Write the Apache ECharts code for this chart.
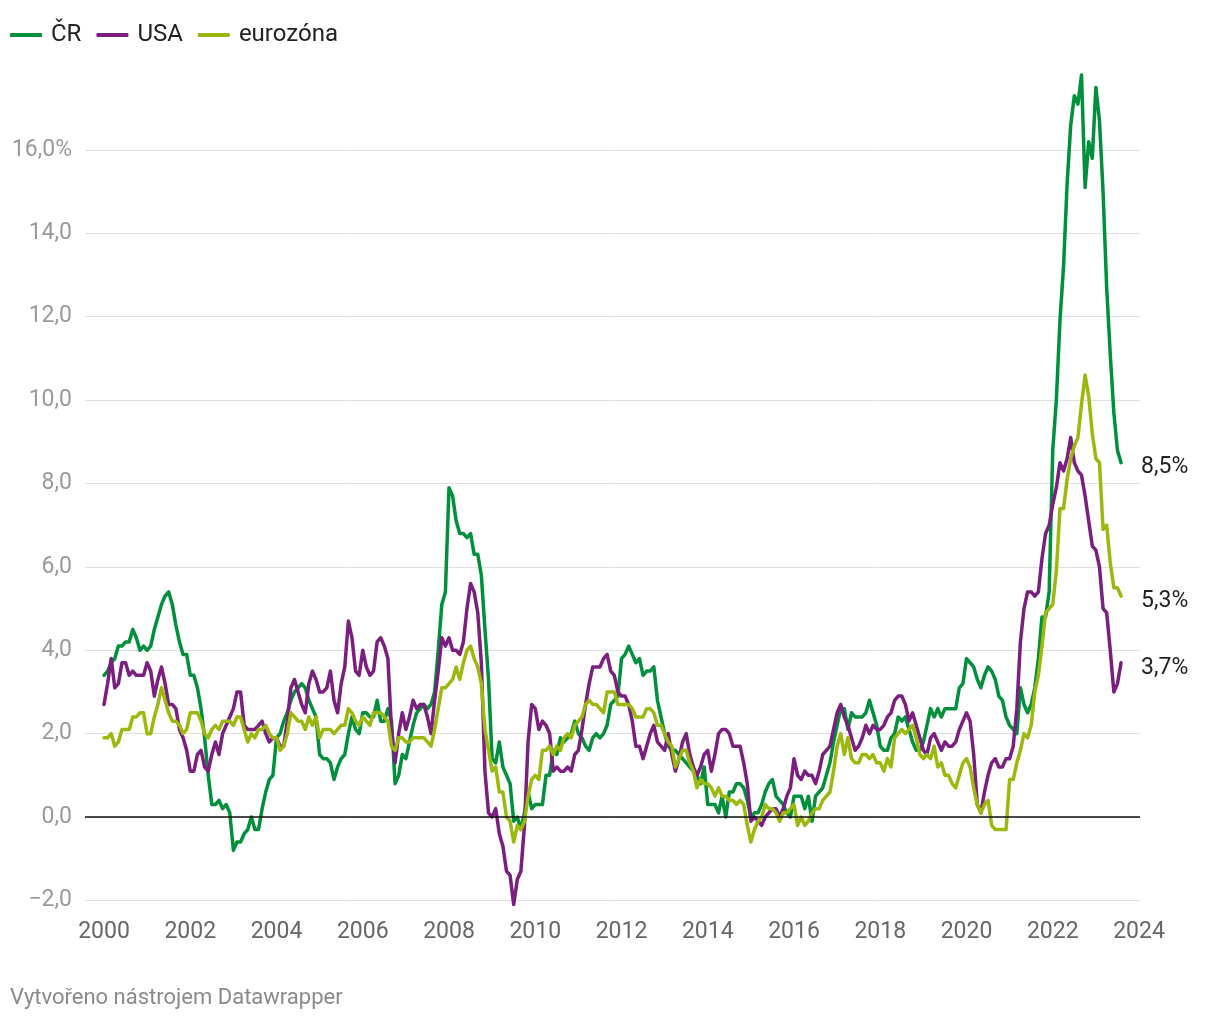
<!DOCTYPE html>
<html>
<head>
<meta charset="utf-8">
<script src="https://cdn.jsdelivr.net/npm/echarts@6/dist/echarts.min.js"></script>
<style>
html,body{margin:0;padding:0;background:#fff;}
#chart{width:1220px;height:1020px;}
</style>
</head>
<body>
<div id="chart"></div>
<script>
// Monthly year-on-year inflation, Jan 2000 – Aug 2023
const startYear = 2000;
const seriesNames = ['ČR', 'USA', 'eurozóna'];

const cz = [
3.4,3.5,3.7,3.8,4.1,4.1,4.2,4.2,4.5,4.3,4.0,4.1,
4.0,4.1,4.5,4.8,5.1,5.3,5.4,5.1,4.6,4.2,3.9,3.9,
3.4,3.4,3.1,2.6,1.9,1.0,0.3,0.3,0.4,0.2,0.3,0.1,
-0.8,-0.6,-0.6,-0.4,-0.3,0.0,-0.3,-0.3,0.2,0.6,0.9,1.0,
1.9,2.0,2.3,2.5,2.8,3.0,3.1,3.2,3.1,2.8,2.6,2.4,
1.5,1.4,1.4,1.3,0.9,1.2,1.4,1.5,2.0,2.4,2.1,2.0,
2.5,2.5,2.4,2.4,2.8,2.3,2.3,2.6,2.3,0.8,1.0,1.5,
1.4,1.8,2.2,2.5,2.6,2.7,2.6,2.7,3.0,4.0,5.1,5.4,
7.9,7.7,7.1,6.8,6.8,6.7,6.8,6.3,6.3,5.8,4.5,3.3,
1.4,1.3,1.8,1.2,1.0,0.8,-0.1,0.0,-0.3,0.1,0.6,0.2,
0.3,0.3,0.3,1.0,1.0,1.6,1.5,1.9,1.8,1.9,2.0,2.3,
2.0,1.9,1.7,1.6,1.9,2.0,1.9,2.0,2.2,2.7,2.8,2.9,
3.8,3.9,4.1,3.9,3.7,3.8,3.4,3.5,3.5,3.6,2.8,2.4,
2.0,1.7,1.6,1.6,1.5,1.4,1.3,1.2,1.1,1.0,0.8,1.2,
0.3,0.3,0.3,0.1,0.5,0.0,0.6,0.6,0.8,0.8,0.7,0.4,
0.0,0.1,0.1,0.3,0.6,0.8,0.9,0.5,0.4,0.3,0.1,0.0,
0.5,0.5,0.5,0.2,0.5,-0.1,0.5,0.6,0.7,1.0,1.3,1.8,
2.2,2.6,2.6,2.1,2.5,2.4,2.4,2.4,2.5,2.8,2.5,2.2,
1.7,1.6,1.6,1.9,2.0,2.4,2.3,2.4,2.1,1.8,1.6,1.6,
1.8,2.2,2.6,2.4,2.6,2.4,2.6,2.6,2.6,2.6,3.1,3.2,
3.8,3.7,3.6,3.3,3.1,3.4,3.6,3.5,3.3,2.9,2.8,2.4,
2.2,2.1,2.0,3.1,2.7,2.5,2.7,3.1,3.8,4.8,4.8,5.4,
8.8,10.0,11.9,13.2,15.2,16.6,17.3,17.1,17.8,15.1,16.2,15.8,
17.5,16.7,15.0,12.7,11.1,9.7,8.8,8.5
];

const usa = [
2.7,3.2,3.8,3.1,3.2,3.7,3.7,3.4,3.5,3.4,3.4,3.4,
3.7,3.5,2.9,3.3,3.6,3.2,2.7,2.7,2.6,2.1,1.9,1.6,
1.1,1.1,1.5,1.6,1.2,1.1,1.5,1.8,1.5,2.0,2.2,2.4,
2.6,3.0,3.0,2.2,2.1,2.1,2.1,2.2,2.3,2.0,1.8,1.9,
1.9,1.7,1.7,2.3,3.1,3.3,3.0,2.7,2.5,3.2,3.5,3.3,
3.0,3.0,3.1,3.5,2.8,2.5,3.2,3.6,4.7,4.3,3.5,3.4,
4.0,3.6,3.4,3.5,4.2,4.3,4.1,3.8,2.1,1.3,2.0,2.5,
2.1,2.4,2.8,2.6,2.7,2.7,2.4,2.0,2.8,3.5,4.3,4.1,
4.3,4.0,4.0,3.9,4.2,5.0,5.6,5.4,4.9,3.7,1.1,0.1,
0.0,0.2,-0.4,-0.7,-1.3,-1.4,-2.1,-1.5,-1.3,-0.2,1.8,2.7,
2.6,2.1,2.3,2.2,2.0,1.1,1.2,1.1,1.1,1.2,1.1,1.5,
1.6,2.1,2.7,3.2,3.6,3.6,3.6,3.8,3.9,3.5,3.4,3.0,
2.9,2.9,2.7,2.3,1.7,1.7,1.4,1.7,2.0,2.2,1.8,1.7,
1.6,2.0,1.5,1.1,1.4,1.8,2.0,1.5,1.2,1.0,1.2,1.5,
1.6,1.1,1.5,2.0,2.1,2.1,2.0,1.7,1.7,1.7,1.3,0.8,
-0.1,0.0,-0.1,-0.2,0.0,0.1,0.2,0.2,0.0,0.2,0.5,0.7,
1.4,1.0,0.9,1.1,1.0,1.0,0.8,1.1,1.5,1.6,1.7,2.1,
2.5,2.7,2.4,2.2,1.9,1.6,1.7,1.9,2.2,2.0,2.2,2.1,
2.1,2.2,2.4,2.5,2.8,2.9,2.9,2.7,2.3,2.5,2.2,1.9,
1.6,1.5,1.9,2.0,1.8,1.6,1.8,1.7,1.7,1.8,2.1,2.3,
2.5,2.3,1.5,0.3,0.1,0.6,1.0,1.3,1.4,1.2,1.2,1.4,
1.4,1.7,2.6,4.2,5.0,5.4,5.4,5.3,5.4,6.2,6.8,7.0,
7.5,7.9,8.5,8.3,8.6,9.1,8.5,8.3,8.2,7.7,7.1,6.5,
6.4,6.0,5.0,4.9,4.0,3.0,3.2,3.7
];

const ez = [
1.9,1.9,2.0,1.7,1.8,2.1,2.1,2.1,2.4,2.4,2.5,2.5,
2.0,2.0,2.4,2.7,3.1,2.8,2.5,2.3,2.3,2.2,2.0,2.1,
2.5,2.5,2.5,2.3,2.0,1.9,2.1,2.2,2.1,2.3,2.3,2.3,
2.2,2.4,2.4,2.1,1.8,2.0,1.9,2.1,2.1,2.2,2.0,1.9,
1.9,1.6,1.7,2.0,2.5,2.4,2.3,2.3,2.1,2.4,2.2,2.4,
1.9,2.1,2.1,2.1,2.0,2.1,2.2,2.2,2.6,2.5,2.3,2.2,
2.4,2.3,2.2,2.5,2.5,2.5,2.4,2.3,1.7,1.6,1.9,1.9,
1.8,1.8,1.9,1.9,1.9,1.9,1.8,1.7,2.1,2.6,3.1,3.1,
3.2,3.3,3.6,3.3,3.7,4.0,4.1,3.8,3.6,3.2,2.1,1.6,
1.1,1.2,0.6,0.6,0.0,-0.1,-0.6,-0.2,-0.3,-0.1,0.5,0.9,
1.0,0.9,1.6,1.6,1.7,1.5,1.7,1.6,1.9,2.0,1.9,2.2,
2.3,2.4,2.7,2.8,2.7,2.7,2.6,2.5,3.0,3.0,3.0,2.7,
2.7,2.7,2.7,2.6,2.4,2.4,2.4,2.6,2.6,2.5,2.2,2.2,
2.0,1.8,1.7,1.2,1.4,1.6,1.6,1.3,1.1,0.7,0.9,0.8,
0.8,0.7,0.5,0.7,0.5,0.5,0.4,0.4,0.3,0.4,0.3,-0.2,
-0.6,-0.3,-0.1,0.0,0.3,0.2,0.2,0.1,-0.1,0.1,0.1,0.2,
0.3,-0.2,0.0,-0.2,-0.1,0.1,0.2,0.2,0.4,0.5,0.6,1.1,
1.7,2.0,1.5,1.9,1.4,1.3,1.3,1.5,1.5,1.4,1.5,1.3,
1.3,1.1,1.4,1.2,1.9,2.0,2.1,2.0,2.1,2.2,1.9,1.5,
1.4,1.5,1.4,1.7,1.2,1.3,1.0,1.0,0.8,0.7,1.0,1.3,
1.4,1.2,0.7,0.3,0.1,0.3,0.4,-0.2,-0.3,-0.3,-0.3,-0.3,
0.9,0.9,1.3,1.6,2.0,1.9,2.2,3.0,3.4,4.1,4.9,5.0,
5.1,5.9,7.4,7.4,8.1,8.6,8.9,9.1,9.9,10.6,10.1,9.2,
8.6,8.5,6.9,7.0,6.1,5.5,5.5,5.3
];

const xTickLabels = [2000,2002,2004,2006,2008,2010,2012,2014,2016,2018,2020,2022,2024];
const yTickValues = [-2,0,2,4,6,8,10,12,14,16];

const colors = ['#00903b', '#7a1e80', '#9cb80c'];

function toPoints(arr){
  return arr.map((v,i)=>[startYear + i/12, v]);
}
function fmt(v){
  const s = Math.abs(v).toFixed(1).replace('.', ',');
  return (v < 0 ? '\u2212' : '') + s;
}

const chart = echarts.init(document.getElementById('chart'), null, {renderer:'canvas'});

const gridLeft = 85, gridRight = 80, gridTop = 66.6, gridBottom = 119.6;
const pxPerYear = 43.125;
const xMin = 2000 - 19/pxPerYear;
const xMax = xMin + (1220 - gridLeft - gridRight)/pxPerYear;

const mk = (name, data, color, extra) => Object.assign({
  name: name,
  type: 'line',
  data: toPoints(data),
  symbol: 'none',
  showSymbol: false,
  clip: false,
  lineStyle: {color: color, width: 3.5, join: 'round', cap: 'round'},
  itemStyle: {color: color},
  emphasis: {disabled: true},
  endLabel: {
    show: true,
    distance: 20,
    offset: [0, 5],
    formatter: p => fmt(p.value[1]) + '%',
    color: '#222',
    fontSize: 23,
    fontFamily: 'Roboto'
  },
  animation: false
}, extra || {});

const option = {
  animation: false,
  textStyle: {fontFamily: 'Roboto'},
  legend: {
    left: 5,
    top: 18,
    itemWidth: 32,
    itemHeight: 4,
    itemGap: 15,
    icon: 'roundRect',
    selectedMode: false,
    textStyle: {fontSize: 24, color: '#222', fontFamily: 'Roboto', padding: [0,0,0,4]},
    data: seriesNames
  },
  grid: {left: gridLeft, right: gridRight, top: gridTop, bottom: gridBottom, containLabel: false},
  xAxis: {
    type: 'value',
    min: xMin,
    max: xMax,
    axisLine: {show: false},
    axisTick: {show: false},
    splitLine: {show: false},
    axisLabel: {
      customValues: xTickLabels,
      formatter: v => String(Math.round(v)),
      color: '#666',
      fontSize: 23,
      margin: 20,
      fontFamily: 'Roboto'
    }
  },
  yAxis: {
    type: 'value',
    min: -2,
    max: 18,
    interval: 2,
    axisLine: {show: false},
    axisTick: {show: false},
    splitLine: {show: true, showMaxLine: false, lineStyle: {color: '#e0e0e0', width: 1}},
    axisLabel: {
      color: '#9a9a9a',
      fontSize: 23,
      margin: 13,
      padding: [5, 0, 0, 0],
      fontFamily: 'Roboto',
      formatter: v => {
        if (yTickValues.indexOf(v) < 0) return '';
        return fmt(v) + (v === 16 ? '%' : '');
      }
    }
  },
  graphic: [{
    type: 'text',
    left: 10,
    top: 987,
    style: {text: 'Vytvořeno nástrojem Datawrapper', fill: '#8a8a8a', fontSize: 22, fontFamily: 'Roboto'}
  }],
  series: [
    mk(seriesNames[0], cz, colors[0], {
      markLine: {
        silent: true,
        symbol: 'none',
        label: {show: false},
        lineStyle: {color: '#111', width: 1.6, type: 'solid'},
        data: [{yAxis: 0}],
        animation: false
      }
    }),
    mk(seriesNames[1], usa, colors[1]),
    mk(seriesNames[2], ez, colors[2])
  ]
};
chart.setOption(option);
</script>
</body>
</html>
